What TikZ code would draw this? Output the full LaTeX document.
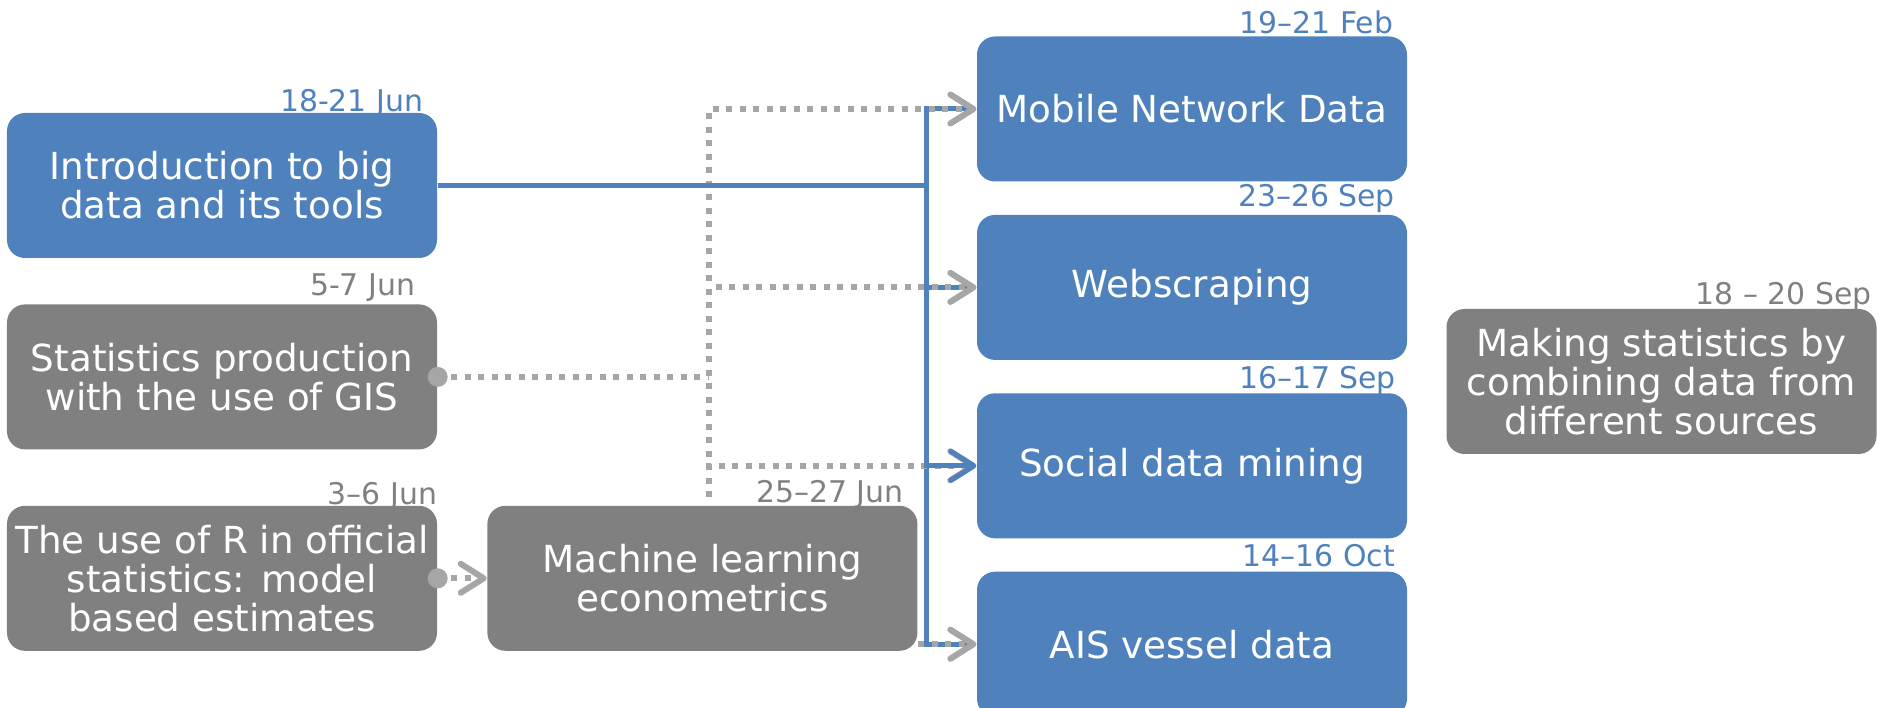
\documentclass[tikz,border=0pt]{standalone}
\usepackage{fontspec}
\setmainfont{DejaVu Sans}
\usetikzlibrary{arrows.meta,positioning}

\definecolor{courseblue}{HTML}{4F81BD}
\definecolor{coursegray}{HTML}{808080}
\definecolor{linkgray}{HTML}{A6A6A6}

\begin{document}
\begin{tikzpicture}[
    >={Straight Barb[length=0.23cm,width=0.29cm,round]},
    coursebox/.style={rectangle,rounded corners=0.18cm,minimum width=4.3cm,minimum height=1.45cm,
        inner sep=0.05cm,align=center,text=white,font=\fontsize{10.6}{11.1}\selectfont},
    bluebox/.style={coursebox,fill=courseblue},
    graybox/.style={coursebox,fill=coursegray},
    datelbl/.style={anchor=base east,inner sep=0pt,font=\fontsize{8.5}{10}\selectfont},
    bluedate/.style={datelbl,text=courseblue},
    graydate/.style={datelbl,text=coursegray},
    blueline/.style={draw=courseblue,line width=0.05cm},
    dotline/.style={draw=linkgray,line width=0.06cm,dash pattern=on 0.06cm off 0.075cm}
  ]
  \useasboundingbox (0,0) rectangle (18.79,7.07);

  \node [bluebox] (intro) at (2.22,5.215) {Introduction to big\\data and its tools};
  \node [graybox,below=0.45cm of intro] (gis) {Statistics production\\with the use of GIS};
  \node [graybox,below=0.55cm of gis] (rstat) {The use of R in official\\statistics: model\\based estimates};
  \node [graybox,right=0.49cm of rstat] (ml) {Machine learning\\econometrics};

  \node [bluebox] (mobile) at (11.92,5.98) {Mobile Network Data};
  \node [bluebox,below=0.32cm of mobile] (web) {Webscraping};
  \node [bluebox,below=0.32cm of web] (social) {Social data mining};
  \node [bluebox,below=0.32cm of social] (ais) {AIS vessel data};

  \node [graybox] (making) at (16.615,3.255) {Making statistics by\\combining data from\\different sources};

  \node [bluedate] (introdate) at ([xshift=-0.14cm,yshift=0.01cm]intro.north east) {18-21 Jun};
  \node [graydate] (gisdate) at ([xshift=-0.22cm,yshift=0.08cm]gis.north east) {5-7 Jun};
  \node [graydate] (rstatdate) at ([yshift=0.01cm]rstat.north east) {3–6 Jun};
  \node [graydate] (mldate) at ([xshift=-0.14cm,yshift=0.03cm]ml.north east) {25–27 Jun};
  \node [bluedate] (mobiledate) at ([xshift=-0.14cm,yshift=0.02cm]mobile.north east) {19–21 Feb};
  \node [bluedate] (webdate) at ([xshift=-0.12cm,yshift=0.08cm]web.north east) {23–26 Sep};
  \node [bluedate] (socialdate) at ([xshift=-0.11cm,yshift=0.04cm]social.north east) {16–17 Sep};
  \node [bluedate] (aisdate) at ([xshift=-0.12cm,yshift=0.05cm]ais.north east) {14–16 Oct};
  \node [graydate] (makingdate) at ([xshift=-0.05cm,yshift=0.04cm]making.north east) {18 – 20 Sep};

  \coordinate (bus) at ([xshift=0.08cm]ml.east);
  \coordinate (mltop) at ([xshift=0.07cm,yshift=0.08cm]ml.north);
  \foreach \dst in {mobile,web,ais}
    \draw [blueline,->] (intro.east) -- (intro.east -| bus) |- (\dst.west);
  \foreach \dst in {mobile,web,social}
    \draw [dotline,->] (mltop) |- (\dst.west);
  \draw [dotline] (gis.east) -- (gis.east -| mltop);
  \fill [linkgray] (gis.east) circle (0.1cm);
  \draw [dotline,->] (rstat.east) -- (ml.west);
  \fill [linkgray] (rstat.east) circle (0.1cm);
  \draw [dotline,->] (ml.east |- ais.west) -- (ais.west);
  \draw [blueline,->] (intro.east) -- (intro.east -| bus) |- (social.west);
\end{tikzpicture}
\end{document}
